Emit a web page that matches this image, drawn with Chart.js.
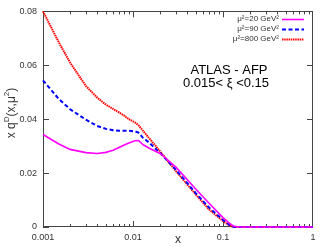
<!DOCTYPE html>
<html><head><meta charset="utf-8">
<script src="https://cdn.jsdelivr.net/npm/chart.js@4"></script>
<style>html,body{margin:0;padding:0;background:#fff;}#wrap{width:329px;height:247px;}</style>
</head><body><div id="wrap"><canvas id="c" width="329" height="247"></canvas></div>
<script>
const xValues = [0.001,0.0015,0.002,0.003,0.004,0.005,0.006,0.007,0.008,0.009,0.0105,0.0115,0.013,0.015,0.02,0.03,0.05,0.07,0.1,0.12,0.13,0.15,0.2,0.5,1];
const mu20  = [0.0343,0.0308,0.0288,0.0276,0.0273,0.0277,0.0285,0.0295,0.0304,0.0312,0.0320,0.0321,0.0305,0.0293,0.0273,0.0222,0.0140,0.0088,0.0035,0.0012,0.0004,0,0,0,0];
const mu90  = [0.0544,0.0475,0.0437,0.0398,0.0375,0.0364,0.0359,0.0357,0.0357,0.0357,0.0355,0.0350,0.0330,0.0314,0.0275,0.0212,0.0125,0.0072,0.0026,0.0006,0.0001,0,0,0,0];
const mu800 = [0.080,0.0685,0.061,0.0523,0.048,0.0454,0.0438,0.0425,0.0413,0.0400,0.0388,0.0378,0.0356,0.0331,0.0281,0.0207,0.012,0.0065,0.0022,0.0004,0,0,0,0,0];
const seriesLabels = ["μ²=20 GeV²","μ²=90 GeV²","μ²=800 GeV²"];
const yTicks = [0,0.02,0.04,0.06,0.08];
const xMajor = [0.001,0.01,0.1,1];

const pts = arr => xValues.map((x,i)=>({x:x,y:arr[i]}));
const AX = '#444';

const decor = {
  id:'decor',
  beforeDatasetsDraw(chart){
    const ctx = chart.ctx, a = chart.chartArea, xs = chart.scales.x, ys = chart.scales.y;
    ctx.save();
    ctx.strokeStyle = AX; ctx.lineWidth = 1;
    ctx.strokeRect(Math.round(a.left)+0.5, Math.round(a.top)+0.5, Math.round(a.right-a.left)-1, Math.round(a.bottom-a.top)-1);
    ctx.beginPath();
    for (let d=-3; d<0; d++){
      for (let m=1; m<=9; m++){
        const v = m*Math.pow(10,d);
        const px = Math.round(xs.getPixelForValue(v))+0.5;
        const L = m===1?6:3;
        ctx.moveTo(px,a.bottom); ctx.lineTo(px,a.bottom-L);
        ctx.moveTo(px,a.top); ctx.lineTo(px,a.top+L);
      }
    }
    yTicks.forEach(v=>{
      const py = Math.round(ys.getPixelForValue(v))+0.5;
      ctx.moveTo(a.left,py); ctx.lineTo(a.left+6,py);
      ctx.moveTo(a.right,py); ctx.lineTo(a.right-6,py);
    });
    ctx.stroke();
    ctx.restore();
  },
  afterDatasetsDraw(chart){
    const ctx = chart.ctx;
    ctx.save();
    // legend
    ctx.font = '8px "Liberation Sans", Arial, sans-serif';
    ctx.fillStyle = '#333'; ctx.textAlign='right'; ctx.textBaseline='middle';
    chart.data.datasets.forEach((ds,i)=>{
      const y = 19 + i*10;
      ctx.fillText(seriesLabels[i], 279, y);
      ctx.save();
      ctx.strokeStyle = ds.borderColor; ctx.lineWidth = ds.borderWidth;
      ctx.setLineDash(ds.borderDash||[]);
      ctx.beginPath(); ctx.moveTo(282,y+0.5); ctx.lineTo(304,y+0.5); ctx.stroke();
      ctx.restore();
    });
    // annotation
    ctx.fillStyle = '#000'; ctx.textAlign='center';
    ctx.font = '13px "Liberation Sans", Arial, sans-serif';
    ctx.fillText('ATLAS - AFP', 229, 70);
    ctx.fillText('0.015< ξ <0.15', 226, 83);
    // x title
    ctx.fillStyle = '#333';
    ctx.font = '12px "Liberation Sans", Arial, sans-serif';
    ctx.fillText('x', 178, 240);
    // y title with superscripts
    ctx.translate(12, 113);
    ctx.rotate(-Math.PI/2);
    ctx.textAlign='left'; ctx.textBaseline='middle';
    const big = '12px "Liberation Sans", Arial, sans-serif', sm = '8px "Liberation Sans", Arial, sans-serif';
    const parts = [['x q',big,0],['D',sm,-5],['(x,μ',big,0],['2',sm,-5],[')',big,0]];
    let w = 0;
    parts.forEach(p=>{ctx.font=p[1]; w+=ctx.measureText(p[0]).width;});
    let cx = -w/2;
    parts.forEach(p=>{ctx.font=p[1]; ctx.fillText(p[0],cx,p[2]); cx+=ctx.measureText(p[0]).width;});
    ctx.restore();
  }
};

new Chart(document.getElementById('c'), {
  type:'scatter',
  data:{datasets:[
    {label:seriesLabels[0], data:pts(mu20), showLine:true, borderColor:'#ff00ff', borderWidth:1.6, pointRadius:0, tension:0, clip:4},
    {label:seriesLabels[1], data:pts(mu90), showLine:true, borderColor:'#0000ff', borderWidth:2, borderDash:[4,2.5], pointRadius:0, tension:0, clip:4},
    {label:seriesLabels[2], data:pts(mu800), showLine:true, borderColor:'#ff0000', borderWidth:2, borderDash:[1.5,0.7], pointRadius:0, tension:0, clip:4}
  ]},
  options:{
    responsive:false, animation:false, devicePixelRatio:1,
    layout:{padding:{top:11,right:16,left:0,bottom:0}},
    plugins:{legend:{display:false}, tooltip:{enabled:false}},
    scales:{
      x:{type:'logarithmic', min:0.001, max:1,
        grid:{display:false, drawTicks:false}, border:{display:false},
        afterFit(s){s.height=20;},
        afterBuildTicks(s){const t=[];for(let d=-3;d<=0;d++){for(let m=1;m<=9;m++){const v=m*Math.pow(10,d); if(v<=1.0000001) t.push({value:v});}} s.ticks=t;},
        ticks:{autoSkip:false, maxRotation:0, padding:5, color:'#333', font:{size:9, family:'"Liberation Sans", Arial, sans-serif'},
          callback(v){ const l=Math.log10(v); return Math.abs(l-Math.round(l))<1e-6 ? String(Number(v.toPrecision(1))) : ''; }}
      },
      y:{min:0, max:0.08,
        grid:{display:false, drawTicks:false}, border:{display:false},
        afterFit(s){s.width=43;},
        afterBuildTicks(s){s.ticks=yTicks.map(v=>({value:v}));},
        ticks:{padding:6, color:'#333', font:{size:9, family:'"Liberation Sans", Arial, sans-serif'},
          callback(v){return String(Number(v.toFixed(2)));}}
      }
    }
  },
  plugins:[decor]
});
</script></body></html>
